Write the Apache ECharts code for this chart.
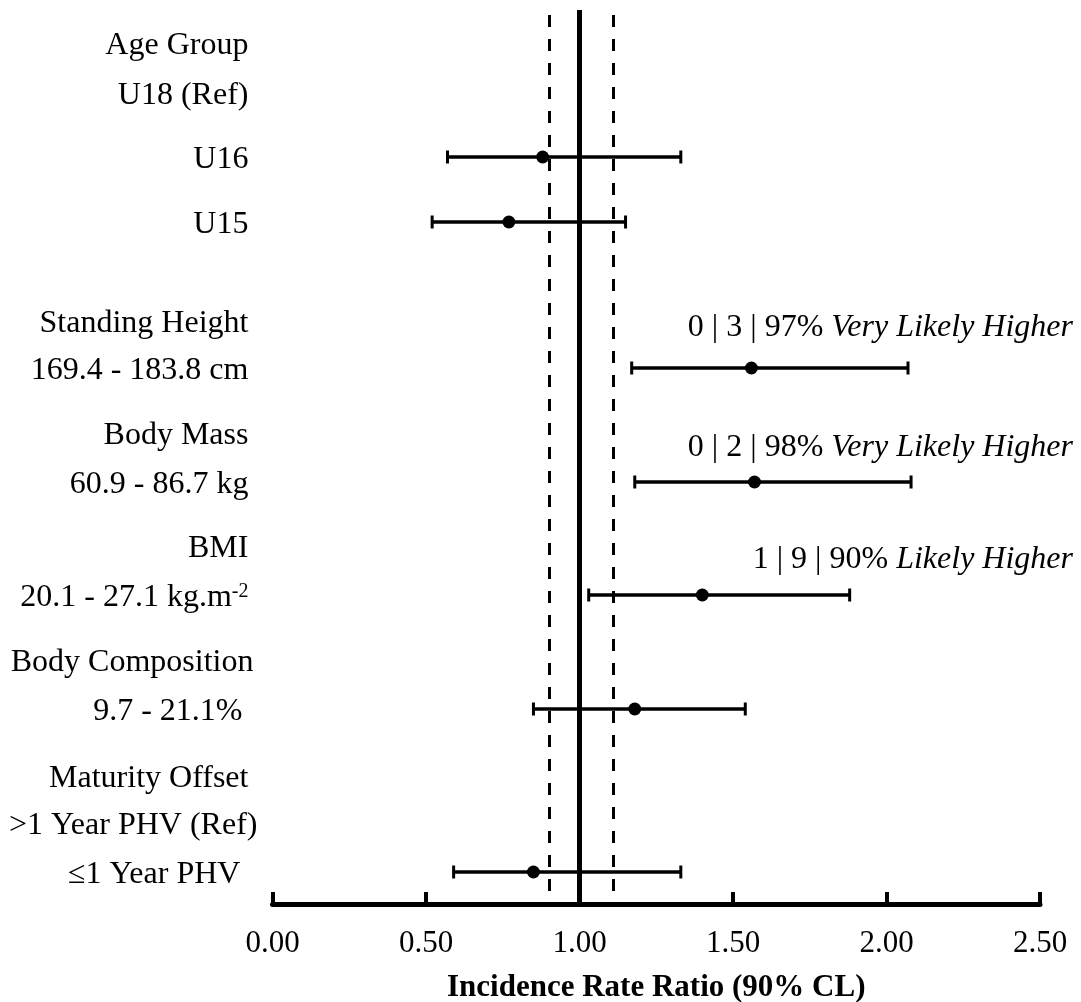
<!DOCTYPE html>
<html><head><meta charset="utf-8">
<script src="https://cdn.jsdelivr.net/npm/echarts@6/dist/echarts.min.js"></script>
<style>html,body{margin:0;padding:0;background:#fff}#c{width:1081px;height:1002px}</style>
</head><body><div id="c"></div>
<script>
// ---- data ----
const rowLabels = ['Age Group','U18 (Ref)','U16','U15','Standing Height','169.4 - 183.8 cm','Body Mass','60.9 - 86.7 kg','BMI','20.1 - 27.1 kg.m{sup|-2}','Body Composition','9.7 - 21.1%','Maturity Offset','>1 Year PHV (Ref)','≤1 Year PHV'];
const estLabels = ['U16','U15','169.4 - 183.8 cm','60.9 - 86.7 kg','20.1 - 27.1 kg.m{sup|-2}','9.7 - 21.1%','≤1 Year PHV'];
const irr   = [0.88, 0.77, 1.56, 1.57, 1.40, 1.18, 0.85];
const lower = [0.57, 0.52, 1.17, 1.18, 1.03, 0.85, 0.59];
const upper = [1.33, 1.15, 2.07, 2.08, 1.88, 1.54, 1.33];
const annNums = ['0 | 3 | 97% ', '0 | 2 | 98% ', '1 | 9 | 90% '];
const annText = ['Very Likely Higher', 'Very Likely Higher', 'Likely Higher'];
const refLines = [0.9, 1.0, 1.11];
const xTicks = [0, 0.5, 1.0, 1.5, 2.0, 2.5];

// ---- layout (vertical row positions on the hidden y scale, small label nudges) ----
const rowPos = [33, 83, 147, 212, 311, 358, 423, 472, 536, 585, 650, 699, 766, 813, 862];
const rowDx  = [0, 0, 0, 0, 0, 0, 0, 0, 0, 0, 5, -6, 0, 9, -8];
const annPos = [315, 435, 547];
const estPos = estLabels.map(l => rowPos[rowLabels.indexOf(l)]);

const FONT = 'Liberation Serif';
const chart = echarts.init(document.getElementById('c'), null, {renderer: 'canvas'});
chart.setOption({
  animation: false,
  backgroundColor: '#fff',
  grid: {left: 272.5, right: 41, top: 10, bottom: 98, containLabel: false, outerBoundsMode: 'none'},
  xAxis: {
    type: 'value', min: xTicks[0], max: xTicks[xTicks.length - 1], interval: 0.5,
    splitLine: {show: false},
    axisLine: {onZero: false, lineStyle: {color: '#000', width: 5}},
    axisTick: {inside: true, length: 12, lineStyle: {color: '#000', width: 4}},
    axisLabel: {fontFamily: FONT, fontSize: 31, color: '#000', margin: 24,
      formatter: v => v.toFixed(2)},
    name: 'Incidence Rate Ratio (90% CL)', nameLocation: 'middle', nameGap: 68,
    nameTextStyle: {fontFamily: FONT, fontSize: 31, fontWeight: 'bold', color: '#000'}
  },
  yAxis: {type: 'value', inverse: true, min: 0, max: 894, show: false},
  series: [
    {
      type: 'scatter', symbolSize: 0.1, itemStyle: {color: 'rgba(0,0,0,0)', opacity: 1}, silent: true,
      data: rowPos.map((p, i) => ({value: [0, p], label: {offset: [rowDx[i], 3]}})),
      label: {show: true, position: 'left', distance: 24, color: '#000',
        fontFamily: FONT, fontSize: 32,
        formatter: p => rowLabels[p.dataIndex],
        rich: {sup: {fontFamily: FONT, fontSize: 20, color: '#000', padding: [0, 0, 12, 0]}}},
      markLine: {
        silent: true, symbol: 'none', label: {show: false},
        data: refLines.map(v => ({xAxis: v, lineStyle: v === 1
          ? {color: '#000', type: 'solid', width: 5, opacity: 1}
          : {color: '#000', type: [12, 12], dashOffset: 19, width: 3, opacity: 1}}))
      }
    },
    {
      type: 'custom', silent: true,
      data: lower.map((l, i) => [l, upper[i], estPos[i]]),
      encode: {x: [0, 1], y: 2},
      renderItem: (params, api) => {
        const a = api.coord([api.value(0), api.value(2)]);
        const b = api.coord([api.value(1), api.value(2)]);
        const h = 6.5;
        const st = {stroke: '#000', lineWidth: 3.5};
        return {type: 'group', children: [
          {type: 'line', shape: {x1: a[0], y1: a[1], x2: b[0], y2: b[1]}, style: st},
          {type: 'line', shape: {x1: a[0], y1: a[1] - h, x2: a[0], y2: a[1] + h}, style: {stroke: '#000', lineWidth: 3}},
          {type: 'line', shape: {x1: b[0], y1: b[1] - h, x2: b[0], y2: b[1] + h}, style: {stroke: '#000', lineWidth: 3}}
        ]};
      }
    },
    {
      type: 'scatter', symbol: 'circle', symbolSize: 13, itemStyle: {color: '#000', opacity: 1}, silent: true,
      data: irr.map((v, i) => [v, estPos[i]])
    },
    {
      type: 'scatter', symbolSize: 0.1, itemStyle: {color: 'rgba(0,0,0,0)', opacity: 1}, silent: true,
      data: annPos.map(p => [xTicks[xTicks.length - 1], p]),
      label: {show: true, position: 'inside', align: 'right', offset: [33, 3], color: '#000',
        formatter: p => '{n|' + annNums[p.dataIndex] + '}{i|' + annText[p.dataIndex] + '}',
        rich: {
          n: {fontFamily: FONT, fontSize: 32, color: '#000'},
          i: {fontFamily: FONT, fontSize: 32, fontStyle: 'italic', color: '#000'}
        }}
    }
  ]
});
</script>
</body></html>
